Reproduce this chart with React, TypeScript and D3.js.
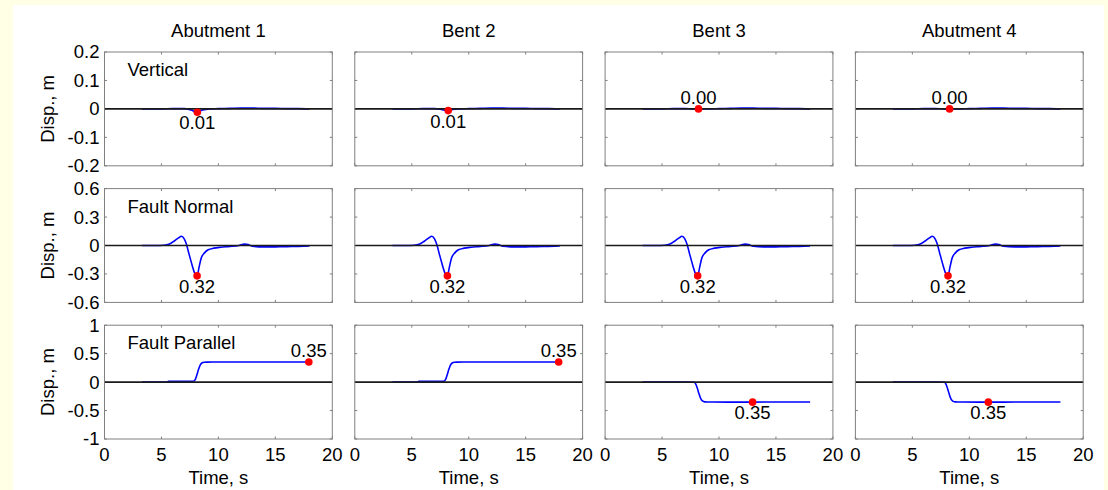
import React from "react";
import * as d3 from "d3";

// ---------- data ----------
const colTitles = ["Abutment 1", "Bent 2", "Bent 3", "Abutment 4"];
const rowLabels = ["Vertical", "Fault Normal", "Fault Parallel"];
const yDomains: [number, number][] = [[-0.2, 0.2], [-0.6, 0.6], [-1, 1]];
const yTickValues = [
  [0.2, 0.1, 0, -0.1, -0.2],
  [0.6, 0.3, 0, -0.3, -0.6],
  [1, 0.5, 0, -0.5, -1],
];
const yTickLabels = [
  ["0.2", "0.1", "0", "-0.1", "-0.2"],
  ["0.6", "0.3", "0", "-0.3", "-0.6"],
  ["1", "0.5", "0", "-0.5", "-1"],
];
const xTickValues = [0, 5, 10, 15, 20];
const xTickLabels = ["0", "5", "10", "15", "20"];

// Vertical displacement
const vertTime = [3.3, 5, 6, 7, 7.6, 8.1, 8.6, 9.2, 10, 11, 12, 13, 14, 15, 16, 17, 18];
const vertAbut1 = [0, 0, 0.001, 0.001, -0.004, -0.011, -0.004, 0, 0.001, 0.002, 0.003, 0.003, 0.002, 0.002, 0.001, 0.001, 0];
const vertBent2 = [0, 0, 0.001, 0.001, -0.002, -0.006, -0.002, 0, 0.001, 0.002, 0.003, 0.003, 0.002, 0.002, 0.001, 0.001, 0];
const vertBent3 = [0, 0, 0.001, 0.001, 0, -0.001, 0, 0, 0.001, 0.002, 0.003, 0.003, 0.002, 0.002, 0.001, 0.001, 0];
const vertAbut4 = [0, 0, 0.001, 0.001, 0, -0.001, 0, 0, 0.001, 0.002, 0.003, 0.003, 0.002, 0.002, 0.001, 0.001, 0];

// Fault normal displacement
const fnTime = [3.3, 4.5, 5.2, 5.7, 6.1, 6.5, 6.75, 7.0, 7.2, 7.4, 7.7, 7.95, 8.13, 8.3, 8.5, 8.8, 9.1, 9.6, 10.2, 11, 11.8, 12.3, 12.6, 13, 14, 15, 16, 17, 18];
const fnAbut1 = [0, 0, 0.003, 0.015, 0.045, 0.08, 0.097, 0.07, 0.01, -0.08, -0.21, -0.3, -0.32, -0.23, -0.13, -0.075, -0.045, -0.028, -0.018, -0.01, 0, 0.015, 0.01, -0.008, -0.015, -0.014, -0.012, -0.01, -0.006];
const fnBent2 = [0, 0, 0.003, 0.015, 0.045, 0.08, 0.097, 0.07, 0.01, -0.08, -0.21, -0.3, -0.32, -0.23, -0.13, -0.075, -0.045, -0.028, -0.018, -0.01, 0, 0.015, 0.01, -0.008, -0.015, -0.014, -0.012, -0.01, -0.006];
const fnBent3 = [0, 0, 0.003, 0.015, 0.045, 0.08, 0.097, 0.07, 0.01, -0.08, -0.21, -0.3, -0.32, -0.23, -0.13, -0.075, -0.045, -0.028, -0.018, -0.01, 0, 0.015, 0.01, -0.008, -0.015, -0.014, -0.012, -0.01, -0.006];
const fnAbut4 = [0, 0, 0.003, 0.015, 0.045, 0.08, 0.097, 0.07, 0.01, -0.08, -0.21, -0.3, -0.32, -0.23, -0.13, -0.075, -0.045, -0.028, -0.018, -0.01, 0, 0.015, 0.01, -0.008, -0.015, -0.014, -0.012, -0.01, -0.006];

// Fault parallel displacement
const fpTime = [3.3, 5.5, 5.6, 7.0, 7.8, 7.95, 8.1, 8.25, 8.4, 8.55, 8.75, 9.0, 9.5, 12, 14, 16, 18];
const fpAbut1 = [0, 0, 0.012, 0.012, 0.015, 0.04, 0.12, 0.22, 0.3, 0.335, 0.348, 0.351, 0.352, 0.352, 0.352, 0.352, 0.353];
const fpBent2 = [0, 0, 0.012, 0.012, 0.015, 0.04, 0.12, 0.22, 0.3, 0.335, 0.348, 0.351, 0.352, 0.352, 0.352, 0.352, 0.353];
const fpBent3 = [0, 0, 0, 0, -0.002, -0.03, -0.11, -0.21, -0.29, -0.33, -0.347, -0.35, -0.351, -0.352, -0.351, -0.351, -0.35];
const fpAbut4 = [0, 0, 0, 0, -0.002, -0.035, -0.12, -0.22, -0.3, -0.335, -0.348, -0.35, -0.351, -0.352, -0.351, -0.351, -0.35];

const rowTimes = [vertTime, fnTime, fpTime];
const rowSeries = [
  [vertAbut1, vertBent2, vertBent3, vertAbut4],
  [fnAbut1, fnBent2, fnBent3, fnAbut4],
  [fpAbut1, fpBent2, fpBent3, fpAbut4],
];

// peak markers
const peakTimes = [
  [8.15, 8.2, 8.2, 8.27],
  [8.13, 8.13, 8.13, 8.13],
  [17.94, 17.9, 12.95, 11.67],
];
const peakValues = [
  [-0.012, -0.006, 0, 0],
  [-0.32, -0.32, -0.32, -0.32],
  [0.352, 0.352, -0.352, -0.352],
];
const peakLabels = [
  ["0.01", "0.01", "0.00", "0.00"],
  ["0.32", "0.32", "0.32", "0.32"],
  ["0.35", "0.35", "0.35", "0.35"],
];
const peakAbove = [
  [false, false, true, true],
  [false, false, false, false],
  [true, true, false, false],
];

// ---------- layout ----------
const W = 1108;
const H = 490;
const colLeft0 = 104.5;
const colStep = 250.3;
const panelW = 227.8;
const rowTop0 = 52;
const rowStep = 136.6;
const panelH = 113.8;
const FONT = "'Liberation Sans', Arial, Helvetica, sans-serif";
const FS = 18.5;
const TICK = 2.5;

export default function App() {
  const panels: React.ReactNode[] = [];

  for (let r = 0; r < 3; r++) {
    for (let c = 0; c < 4; c++) {
      const left = colLeft0 + colStep * c;
      const top = rowTop0 + rowStep * r;
      const xs = d3.scaleLinear().domain([0, 20]).range([left, left + panelW]);
      const ys = d3.scaleLinear().domain(yDomains[r]).range([top + panelH, top]);
      const t = rowTimes[r];
      const v = rowSeries[r][c];
      const pts: [number, number][] = t.map((ti, i) => [ti, v[i]]);
      const line = d3
        .line<[number, number]>()
        .x((d) => xs(d[0]))
        .y((d) => ys(d[1]))
        .curve(d3.curveMonotoneX);
      const px = xs(peakTimes[r][c]);
      const py = ys(peakValues[r][c]);
      const above = peakAbove[r][c];

      panels.push(
        <g key={`p${r}-${c}`}>
          <rect x={left} y={top} width={panelW} height={panelH} fill="#fff" />
          {xTickValues.map((tv) => (
            <g key={`xt${tv}`}>
              <line x1={xs(tv)} x2={xs(tv)} y1={top + panelH} y2={top + panelH - TICK} stroke="#808080" strokeWidth={1} />
              <line x1={xs(tv)} x2={xs(tv)} y1={top} y2={top + TICK} stroke="#808080" strokeWidth={1} />
            </g>
          ))}
          {yTickValues[r].map((tv) => (
            <g key={`yt${tv}`}>
              <line x1={left} x2={left + TICK} y1={ys(tv)} y2={ys(tv)} stroke="#808080" strokeWidth={1} />
              <line x1={left + panelW} x2={left + panelW - TICK} y1={ys(tv)} y2={ys(tv)} stroke="#808080" strokeWidth={1} />
            </g>
          ))}
          <path d={line(pts) || ""} fill="none" stroke="#0000ff" strokeWidth={1.6} />
          <line x1={xs(0)} x2={xs(20)} y1={ys(0)} y2={ys(0)} stroke="#1a1a1a" strokeWidth={1.6} />
          <rect x={left} y={top} width={panelW} height={panelH} fill="none" stroke="#808080" strokeWidth={1} />
          <circle cx={px} cy={py} r={3.8} fill="#ff0000" />
          <text x={px} y={above ? py - 5 : py + 17} textAnchor="middle" fontSize={FS} fontFamily={FONT} fill="#000">
            {peakLabels[r][c]}
          </text>
          {c === 0 && (
            <text x={left + 23} y={top + 24} fontSize={FS} fontFamily={FONT} fill="#000">
              {rowLabels[r]}
            </text>
          )}
          {c === 0 &&
            yTickValues[r].map((tv, i) => (
              <text key={`yl${tv}`} x={left - 5} y={ys(tv)} dy="0.35em" textAnchor="end" fontSize={FS} fontFamily={FONT} fill="#000">
                {yTickLabels[r][i]}
              </text>
            ))}
          {c === 0 && (
            <text
              transform={`translate(54,${top + panelH / 2}) rotate(-90)`}
              textAnchor="middle"
              fontSize={FS}
              fontFamily={FONT}
              fill="#000"
            >
              Disp., m
            </text>
          )}
          {r === 0 && (
            <text x={left + panelW / 2} y={37} textAnchor="middle" fontSize={FS} fontFamily={FONT} fill="#000">
              {colTitles[c]}
            </text>
          )}
          {r === 2 &&
            xTickValues.map((tv, i) => (
              <text key={`xl${tv}`} x={xs(tv)} y={top + panelH + 22} textAnchor="middle" fontSize={FS} fontFamily={FONT} fill="#000">
                {xTickLabels[i]}
              </text>
            ))}
          {r === 2 && (
            <text x={left + panelW / 2} y={484} textAnchor="middle" fontSize={FS} fontFamily={FONT} fill="#000">
              Time, s
            </text>
          )}
        </g>
      );
    }
  }

  return (
    <div style={{ position: "fixed", left: 0, top: 0, width: W, height: H }}>
      <svg width={W} height={H} style={{ display: "block" }}>
        <rect x={0} y={0} width={W} height={H} fill="#ffffe6" />
        <rect x={13} y={5} width={1091} height={H - 5} fill="#ffffff" />
        {panels}
      </svg>
    </div>
  );
}
